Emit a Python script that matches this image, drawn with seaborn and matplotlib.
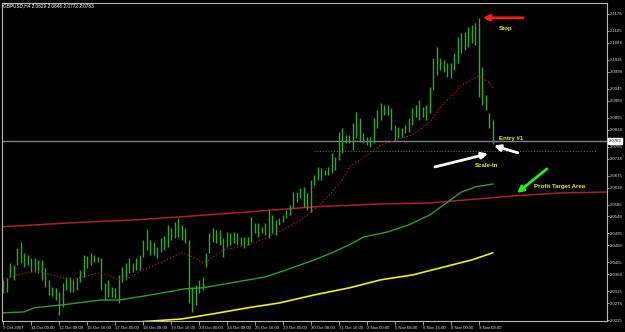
import matplotlib
matplotlib.use('Agg')
import matplotlib.pyplot as plt
import seaborn as sns
import numpy as np
import pandas as pd

# ---------------- data ----------------
title_text = "GBPUSD,H4 2.0829 2.0848 2.0772 2.0783"

highs = [2.0351, 2.0357, 2.0404, 2.0397, 2.0450, 2.0469, 2.0435, 2.0428, 2.0419, 2.0419,
         2.0413, 2.0413, 2.0388, 2.0351, 2.0329, 2.0326, 2.0313, 2.0341, 2.0360, 2.0360,
         2.0351, 2.0357, 2.0382, 2.0428, 2.0425, 2.0435, 2.0428, 2.0422, 2.0419, 2.0341,
         2.0351, 2.0329, 2.0326, 2.0366, 2.0391, 2.0404, 2.0419, 2.0404, 2.0419, 2.0428,
         2.0475, 2.0509, 2.0475, 2.0469, 2.0453, 2.0481, 2.0488, 2.0522, 2.0512, 2.0531,
         2.0544, 2.0522, 2.0512, 2.0475, 2.0329, 2.0335, 2.0351, 2.0360, 2.0435, 2.0497,
         2.0512, 2.0506, 2.0506, 2.0481, 2.0500, 2.0497, 2.0500, 2.0497, 2.0484, 2.0484,
         2.0484, 2.0547, 2.0528, 2.0528, 2.0516, 2.0528, 2.0568, 2.0553, 2.0537, 2.0544,
         2.0553, 2.0568, 2.0584, 2.0624, 2.0624, 2.0637, 2.0640, 2.0621, 2.0662, 2.0677,
         2.0702, 2.0699, 2.0693, 2.0702, 2.0746, 2.0733, 2.0811, 2.0823, 2.0802, 2.0802,
         2.0839, 2.0873, 2.0855, 2.0808, 2.0795, 2.0795, 2.0855, 2.0879, 2.0901, 2.0895,
         2.0895, 2.0886, 2.0833, 2.0827, 2.0823, 2.0833, 2.0855, 2.0886, 2.0895, 2.0911,
         2.0889, 2.0895, 2.0951, 2.1041, 2.1075, 2.1041, 2.1035, 2.1026, 2.1026, 2.1057,
         2.1106, 2.1119, 2.1122, 2.1138, 2.1144, 2.1150, 2.1166, 2.1013, 2.0926, 2.0870,
         2.0848]

lows = [2.0310, 2.0313, 2.0360, 2.0351, 2.0397, 2.0404, 2.0391, 2.0397, 2.0376, 2.0376,
        2.0372, 2.0351, 2.0329, 2.0304, 2.0301, 2.0288, 2.0242, 2.0267, 2.0320, 2.0313,
        2.0313, 2.0320, 2.0344, 2.0360, 2.0388, 2.0397, 2.0407, 2.0407, 2.0320, 2.0288,
        2.0298, 2.0298, 2.0295, 2.0279, 2.0344, 2.0351, 2.0372, 2.0376, 2.0382, 2.0382,
        2.0422, 2.0444, 2.0428, 2.0428, 2.0419, 2.0438, 2.0444, 2.0453, 2.0475, 2.0481,
        2.0484, 2.0475, 2.0466, 2.0279, 2.0251, 2.0273, 2.0310, 2.0320, 2.0391, 2.0435,
        2.0469, 2.0466, 2.0460, 2.0422, 2.0453, 2.0460, 2.0466, 2.0460, 2.0460, 2.0450,
        2.0460, 2.0469, 2.0497, 2.0484, 2.0497, 2.0491, 2.0481, 2.0497, 2.0491, 2.0522,
        2.0531, 2.0544, 2.0553, 2.0575, 2.0593, 2.0606, 2.0578, 2.0568, 2.0562, 2.0646,
        2.0662, 2.0662, 2.0677, 2.0677, 2.0684, 2.0693, 2.0724, 2.0746, 2.0777, 2.0777,
        2.0755, 2.0792, 2.0780, 2.0777, 2.0771, 2.0764, 2.0777, 2.0823, 2.0848, 2.0864,
        2.0864, 2.0817, 2.0786, 2.0792, 2.0795, 2.0808, 2.0811, 2.0833, 2.0858, 2.0848,
        2.0858, 2.0848, 2.0870, 2.0942, 2.0988, 2.1004, 2.0998, 2.0982, 2.0979, 2.1004,
        2.1026, 2.1057, 2.1066, 2.1075, 2.1088, 2.1082, 2.0920, 2.0895, 2.0879, 2.0823,
        2.0772]

ma_dot_idx = [0, 4, 8, 11, 14, 17, 19, 22, 25, 27, 30, 33, 36, 39, 42, 45, 48, 51, 54, 57,
              59, 61, 63, 66, 70, 74, 77, 81, 85, 88, 91, 94, 97, 99, 102, 105, 108, 111, 114, 117,
              119, 122, 125, 128, 131, 134, 136, 137, 139, 140]
ma_dot_val = [2.0354, 2.0366, 2.0376, 2.0376, 2.0366, 2.0357, 2.0351, 2.0357, 2.0366, 2.0372,
              2.0366, 2.0351, 2.0357, 2.0376, 2.0391, 2.0404, 2.0419, 2.0435, 2.0423, 2.0404,
              2.0413, 2.0431, 2.0444, 2.0450, 2.0460, 2.0475, 2.0491, 2.0512, 2.0537, 2.0562,
              2.0590, 2.0624, 2.0662, 2.0702, 2.0724, 2.0746, 2.0771, 2.0780, 2.0792, 2.0802,
              2.0817, 2.0842, 2.0889, 2.0920, 2.0957, 2.0973, 2.0986, 2.0979, 2.0964, 2.0948]

ma_green_idx = [0, 6, 9, 17, 28, 33, 39, 47, 52, 57, 65, 75, 81, 89, 94, 99, 103, 110, 116, 122,
                131, 135, 140]
ma_green_val = [2.0248, 2.0251, 2.0264, 2.0273, 2.0288, 2.0288, 2.0298, 2.0313, 2.0323, 2.0326,
                2.0341, 2.0360, 2.0382, 2.0413, 2.0435, 2.0460, 2.0484, 2.0500, 2.0522, 2.0553,
                2.0624, 2.0640, 2.0649]

ma_yellow_idx = [39, 51, 60, 70, 79, 89, 99, 108, 117, 125, 134, 140]
ma_yellow_val = [2.0220, 2.0229, 2.0245, 2.0264, 2.0279, 2.0304, 2.0326, 2.0351, 2.0366, 2.0388,
                 2.0413, 2.0435]

ma_red_idx = [0, 19, 37, 51, 70, 89, 108, 122, 146, 159, 173]
ma_red_val = [2.0516, 2.0528, 2.0537, 2.0547, 2.0562, 2.0578, 2.0587, 2.0590, 2.0612, 2.0621, 2.0624]

bid_price = 2.0783
scalein_price = 2.0752

ytick_vals = [2.1178, 2.1125, 2.1088, 2.1035, 2.0998, 2.0945, 2.0908, 2.0855, 2.0818, 2.0765,
              2.0728, 2.0675, 2.0638, 2.0585, 2.0548, 2.0495, 2.0458, 2.0405, 2.0368, 2.0315,
              2.0278, 2.0225]
ytick_labels = ["%.4f" % v for v in ytick_vals]

xtick_idx = [0, 8, 16, 24, 32, 40, 48, 56, 64, 72, 80, 88, 96, 104, 112, 120, 128, 136]
xtick_labels = ["9 Oct 2007", "11 Oct 00:00", "12 Oct 08:00", "15 Oct 16:00", "17 Oct 00:00",
                "18 Oct 08:00", "19 Oct 16:00", "23 Oct 00:00", "24 Oct 08:00", "25 Oct 16:00",
                "29 Oct 00:00", "30 Oct 08:00", "31 Oct 16:00", "2 Nov 00:00", "5 Nov 08:00",
                "6 Nov 16:00", "8 Nov 00:00", "9 Nov 08:00"]

# ---------------- style ----------------
sns.set_theme(style="dark")
plt.rcParams['font.family'] = ['Liberation Sans', 'DejaVu Sans']
BG = 'black'
AXC = '#b8b8b8'
BAR_GREEN = '#2fa82f'
YELLOW = '#f0f000'

fig = plt.figure(figsize=(6.25, 3.32), dpi=100, facecolor=BG)
W, H = 625, 332
left_px, right_px, top_px, bot_px = 2, 607, 3, 320.6
ax = fig.add_axes([left_px / W, (H - bot_px) / H, (right_px - left_px) / W, (bot_px - top_px) / H])
ax.set_facecolor(BG)

x = np.arange(len(highs))
bars = pd.DataFrame({"i": x, "high": highs, "low": lows})
ax.vlines(bars["i"], bars["low"], bars["high"], color=BAR_GREEN, lw=1.0, zorder=3)

# horizontal levels
ax.axhline(bid_price, color='#7d8090', lw=1.0, zorder=2)
ax.hlines(scalein_price, 88.9, 169.4, colors='#2b7f7f', linestyles=(0, (1, 1.5)), lw=0.8, zorder=2)

# moving averages / trend lines via seaborn
sns.lineplot(x=ma_red_idx, y=ma_red_val, ax=ax, color='#a8202a', lw=1.1, zorder=2)
sns.lineplot(x=ma_yellow_idx, y=ma_yellow_val, ax=ax, color=YELLOW, lw=1.2, zorder=2)
sns.lineplot(x=ma_green_idx, y=ma_green_val, ax=ax, color='#2d9d2d', lw=1.0, zorder=2)
sns.lineplot(x=ma_dot_idx, y=ma_dot_val, ax=ax, color='#a82020', lw=0.9,
             linestyle=(0, (1, 1.6)), zorder=4)

ax.set_xlim(-0.3, 172.6)
ax.set_ylim(2.0224, 2.1212)
ax.grid(False)

for s in ax.spines.values():
    s.set_color(AXC)
    s.set_linewidth(0.8)

ax.yaxis.tick_right()
ax.set_yticks(ytick_vals)
ax.set_yticklabels(ytick_labels)
ax.tick_params(axis='y', which='both', right=True, left=False, length=1.5, width=0.6,
               color=AXC, labelcolor='#d8d8d8', labelsize=3.1, pad=0.6)
ax.set_xticks(xtick_idx)
ax.set_xticklabels(xtick_labels)
ax.tick_params(axis='x', which='both', bottom=True, length=3, width=0.6,
               color=AXC, labelcolor='#d8d8d8', labelsize=3.1, pad=1)
for lbl in ax.get_xticklabels():
    lbl.set_ha('left')
ax.set_xlabel('')
ax.set_ylabel('')

# current price box on the price axis
ax.text(1.0 + 1.6 / 605, bid_price, "%.4f" % bid_price, transform=ax.get_yaxis_transform(),
        fontsize=3.1, color='black', va='center', ha='left',
        bbox=dict(boxstyle='square,pad=0.15', fc='white', ec='white'), clip_on=False, zorder=6)

# title
fig.text(3 / W, 1 - 5.5 / H, title_text, fontsize=3.4, color='white', va='center', ha='left')

# annotations
def arrow(head, tail, color):
    ax.annotate('', xy=head, xytext=tail,
                arrowprops=dict(arrowstyle='-|>', color=color, lw=2.0, mutation_scale=9,
                                shrinkA=0, shrinkB=0), zorder=7)

arrow((137.1, 2.1166), (148.6, 2.1166), '#ff1a1a')
arrow((140.3, 2.0768), (147.1, 2.0746), 'white')
arrow((138.6, 2.0743), (123.4, 2.0702), 'white')
arrow((146.9, 2.0621), (155.4, 2.0696), '#22ee22')

tkw = dict(color=YELLOW, fontsize=4.4, fontweight='bold', va='center', ha='left', zorder=8)
ax.text(141.7, 2.1134, "Stop", **tkw)
ax.text(141.7, 2.0789, "Entry #1", **tkw)
ax.text(134.8, 2.0705, "Scale-In", **tkw)
ax.text(151.7, 2.0640, "Profit Target Area", **tkw)

fig.savefig('out.png', dpi=100, facecolor=BG)
